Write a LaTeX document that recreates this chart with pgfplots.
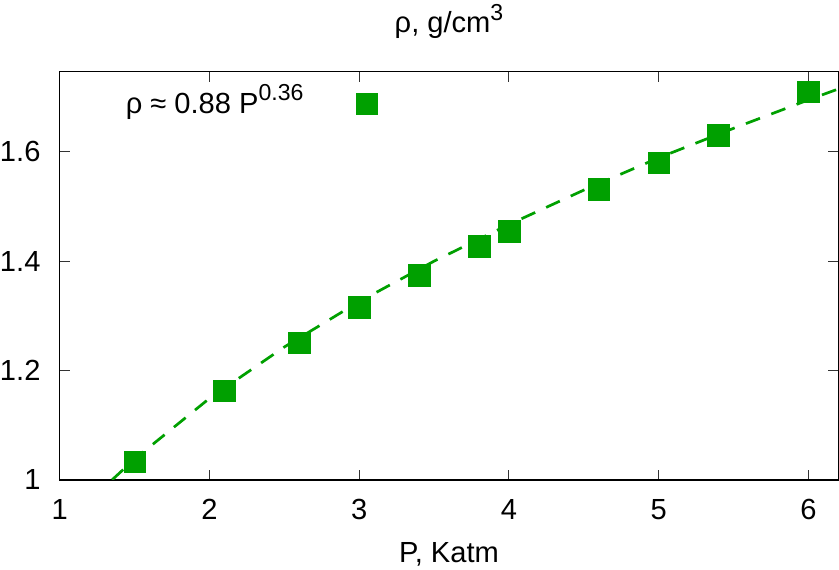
\documentclass[border=0pt]{standalone}
\usepackage{fontspec}
\setmainfont{Liberation Sans}
\usepackage{pgfplots}
\pgfplotsset{compat=1.18}
\definecolor{fitgreen}{HTML}{00A000}

\begin{document}
\begin{tikzpicture}[font=\fontsize{29}{34}\selectfont]
\begin{axis}[
  scale only axis,
  width=776pt, height=407pt,
  xmin=1, xmax=6.2, ymin=1, ymax=1.747,
  xtick={1,2,3,4,5,6},
  ytick={1,1.2,1.4,1.6},
  /pgf/number format/assume math mode=true,
  axis line style={black, line width=1.4pt},
  tick style={black!80, line width=1pt},
  major tick length=10pt,
  xticklabel style={anchor=base, inner sep=0pt, yshift=-40pt},
  yticklabel style={anchor=east, inner sep=0pt, xshift=-19pt},
  title={ρ, g/cm\raisebox{0.42em}{\fontsize{23}{26}\selectfont 3}},
  title style={at={(0.5,1)}, anchor=base, inner sep=4pt, yshift=33pt},
  xlabel={P, Katm},
  xlabel style={at={(0.5,0)}, anchor=base, inner sep=4pt, yshift=-82pt},
]
% dashed fit curve
\addplot[fitgreen, line width=2.7pt, dash pattern=on 15pt off 12pt] coordinates {
(1.35,1.000) (1.5,1.038) (2.0,1.149) (2.5,1.243) (3.0,1.326) (3.5,1.400)
(4.0,1.467) (4.5,1.530) (5.0,1.589) (5.5,1.643) (6.0,1.695) (6.2,1.715)
};
% measured points
\addplot[only marks, mark=square*, mark size=10.8pt, color=fitgreen] coordinates {
(1.5,1.033) (2.1,1.163) (2.6,1.251) (3.0,1.316) (3.05,1.688) (3.4,1.374)
(3.8,1.428) (4.0,1.455) (4.6,1.532) (5.0,1.580) (5.4,1.631) (6.0,1.710)
};
\node[anchor=base west, inner sep=0pt] at (axis cs:1.44,1.670)
  {ρ ≈ 0.88 P\raisebox{0.45em}{\fontsize{23}{26}\selectfont 0.36}};
\end{axis}
\end{tikzpicture}
\end{document}
